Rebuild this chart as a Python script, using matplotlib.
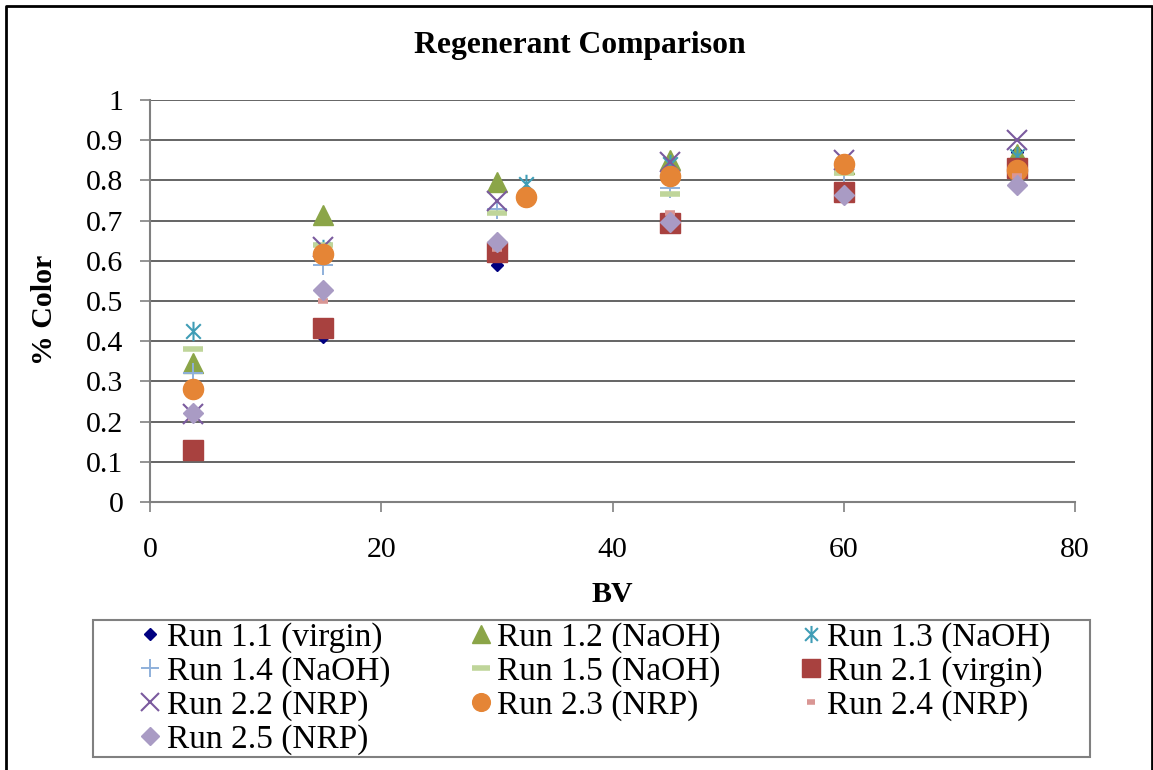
import matplotlib
matplotlib.use("Agg")
import matplotlib.pyplot as plt
from matplotlib.path import Path
from matplotlib.patches import Rectangle
from matplotlib.lines import Line2D

# ---------------- data ----------------
bv_std = [3.75, 15, 30, 45, 60, 75]
bv_alt = [3.75, 15, 32.5, 45, 60, 75]

run_1_1 = [0.12, 0.41, 0.59, 0.70, 0.77, 0.87]
run_1_2 = [0.345, 0.715, 0.795, 0.85, 0.84, 0.865]
run_1_3 = [0.425, 0.63, 0.79, 0.84, 0.84, 0.86]
run_1_4 = [0.32, 0.59, 0.73, 0.78, 0.82, 0.83]
run_1_5 = [0.38, 0.64, 0.72, 0.765, 0.818, 0.83]
run_2_1 = [0.13, 0.433, 0.622, 0.695, 0.77, 0.83]
run_2_2 = [0.22, 0.635, 0.75, 0.845, 0.85, 0.90]
run_2_3 = [0.28, 0.617, 0.759, 0.812, 0.84, 0.826]
run_2_4 = [0.21, 0.50, 0.63, 0.72, 0.765, 0.81]
run_2_5 = [0.222, 0.528, 0.647, 0.697, 0.764, 0.789]

labels = ["Run 1.1 (virgin)", "Run 1.2 (NaOH)", "Run 1.3 (NaOH)", "Run 1.4 (NaOH)",
          "Run 1.5 (NaOH)", "Run 2.1 (virgin)", "Run 2.2 (NRP)", "Run 2.3 (NRP)",
          "Run 2.4 (NRP)", "Run 2.5 (NRP)"]
xticks = [0, 20, 40, 60, 80]
yticks = [0, 0.1, 0.2, 0.3, 0.4, 0.5, 0.6, 0.7, 0.8, 0.9, 1]
ytick_labels = ["0", "0.1", "0.2", "0.3", "0.4", "0.5", "0.6", "0.7", "0.8", "0.9", "1"]

# ---------------- style ----------------
plt.rcParams['font.family'] = ['Liberation Serif', 'DejaVu Serif']

asterisk = Path([(0, -1), (0, 1), (-0.75, -0.75), (0.75, 0.75), (-0.75, 0.75), (0.75, -0.75)],
                [Path.MOVETO, Path.LINETO, Path.MOVETO, Path.LINETO, Path.MOVETO, Path.LINETO])

series = [
    (bv_std, run_1_1, dict(marker='D', ms=6.5, color='#000080', mec='#000080', ls='none')),
    (bv_std, run_1_2, dict(marker='^', ms=14, color='#8BA548', mec='#8BA548', ls='none')),
    (bv_alt, run_1_3, dict(marker=asterisk, ms=14, color='#3F9DB6', mec='#3F9DB6', mew=1.5, ls='none')),
    (bv_std, run_1_4, dict(marker='+', ms=15, color='#8EB0DA', mec='#8EB0DA', mew=1.4, ls='none')),
    (bv_std, run_1_5, dict(marker='_', ms=14, color='#BFD59A', mec='#BFD59A', mew=4, ls='none')),
    (bv_std, run_2_1, dict(marker='s', ms=14, color='#A8413F', mec='#A8413F', ls='none')),
    (bv_std, run_2_2, dict(marker='x', ms=14, color='#7A5A9E', mec='#7A5A9E', mew=1.5, ls='none')),
    (bv_alt, run_2_3, dict(marker='o', ms=14.5, color='#E58536', mec='#E58536', ls='none')),
    (bv_std, run_2_4, dict(marker='_', ms=7, color='#D99694', mec='#D99694', mew=4, ls='none')),
    (bv_std, run_2_5, dict(marker='D', ms=10, color='#A99BC4', mec='#A99BC4', ls='none')),
]

W, H = 1153, 770
fig = plt.figure(figsize=(W / 100, H / 100), dpi=100)
ax = fig.add_axes([150 / W, 1 - 502 / H, (1075 - 150) / W, (502 - 100) / H])

handles = []
for i, (xs, ys, kw) in enumerate(series):
    h, = ax.plot(xs, ys, label=labels[i], zorder=3 + i, clip_on=False, **kw)
    handles.append(h)

ax.set_xlim(0, 80)
ax.set_ylim(0, 1)
ax.set_xticks(xticks)
ax.set_xticklabels([str(v) for v in xticks])
ax.set_yticks(yticks)
ax.set_yticklabels(ytick_labels)

ax.grid(axis='y', color='#3a3a3a', lw=1.1, zorder=0)
ax.set_axisbelow(True)
for s in ['top', 'right']:
    ax.spines[s].set_visible(False)
for s in ['left', 'bottom']:
    ax.spines[s].set_color('#808080')
    ax.spines[s].set_linewidth(1.5)

ax.tick_params(axis='y', length=7, width=1.2, color='#808080', labelsize=21.5, pad=12)
ax.tick_params(axis='x', length=7, width=1.2, color='#808080', labelsize=21.5, pad=18)

fig.text(0.503, 1 - 45 / H, "Regenerant Comparison", ha='center', va='center',
         fontsize=22.8, fontweight='bold')
fig.text(45 / W, 1 - 310 / H, "% Color", ha='center', va='center', rotation=90,
         fontsize=21.5, fontweight='bold')
fig.text(612 / W, 1 - 595 / H, "BV", ha='center', va='center',
         fontsize=21.5, fontweight='bold')

# legend frame (drawn separately so it matches the reference box)
fig.patches.append(Rectangle((93 / W, 1 - 757 / H), (1090 - 93) / W, 137 / H,
                             transform=fig.transFigure, facecolor='white',
                             edgecolor='#808080', lw=1.5, zorder=1))

order = [0, 3, 6, 9, 1, 4, 7, 2, 5, 8]
leg = fig.legend([handles[i] for i in order], [labels[i] for i in order],
                 ncol=3, loc='center',
                 bbox_to_anchor=(594 / W, 1 - 688.5 / H),
                 fontsize=24, frameon=False, borderaxespad=0,
                 handlelength=0.8, handletextpad=0.1, labelspacing=0.09,
                 columnspacing=2.3, borderpad=0.2, markerscale=0.88)
leg.set_zorder(5)

# figure border (left, top, right)
fig.lines.append(Line2D([6 / W, 6 / W, (W - 1.5) / W, (W - 1.5) / W],
                        [0, 1 - 5.5 / H, 1 - 5.5 / H, 0],
                        transform=fig.transFigure, color='black', lw=2, zorder=10))

fig.savefig("out.png", dpi=100)
